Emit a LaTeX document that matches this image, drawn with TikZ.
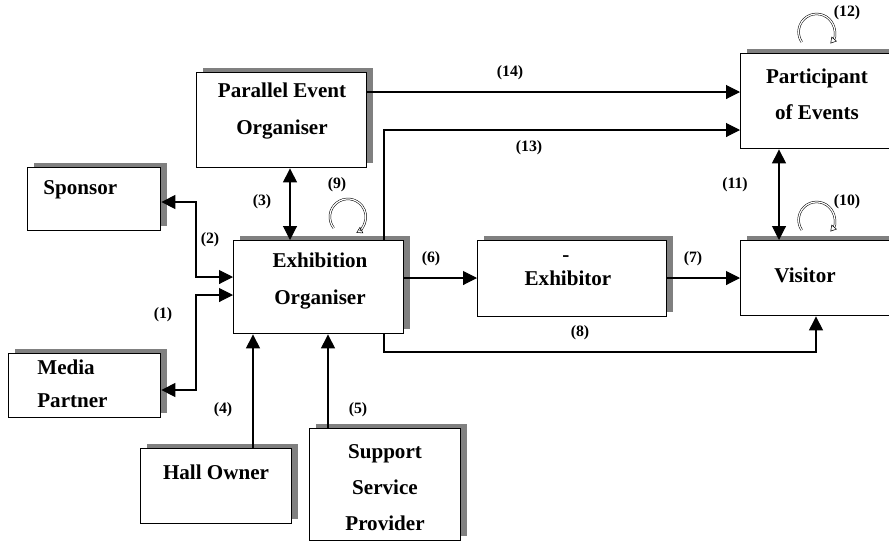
\documentclass[tikz,border=0pt]{standalone}
\usepackage{fontspec}
\setmainfont{Liberation Serif}
\usetikzlibrary{arrows.meta,shadows}

\begin{document}
\begin{tikzpicture}[x=0.02cm,y=-0.02cm,
	box/.style={draw,line width=0.8pt,fill=white,rectangle,anchor=north west,inner sep=0pt,
		drop shadow={shadow xshift=0.12cm,shadow yshift=0.1cm,fill=gray,opacity=1}},
	txt/.style={font=\fontsize{12}{20.5}\selectfont\bfseries,align=center,inner sep=0pt},
	lbl/.style={font=\fontsize{9}{11}\selectfont\bfseries,inner sep=0pt},
	link/.style={line width=0.6pt,-{Triangle[length=0.28cm,width=0.28cm]}},
	both/.style={line width=0.6pt,{Triangle[length=0.28cm,width=0.28cm]}-{Triangle[length=0.28cm,width=0.28cm]}},
	selfloop/.style={double=white,double distance=0.7pt,line width=0.3pt,-{Triangle[open,length=0.12cm,width=0.14cm]}}]
		\clip (0,0) rectangle (889,552);
		%Boxes
		\node[box,minimum width=2.66cm,minimum height=1.26cm] (spon) at (27,167) {};
		\node[box,minimum width=3.04cm,minimum height=1.28cm] (media) at (8,353) {};
		\node[box,minimum width=3.4cm,minimum height=1.9cm] (peo) at (196,72) {};
		\node[box,minimum width=3.4cm,minimum height=1.86cm] (eo) at (233,240) {};
		\node[box,minimum width=3.78cm,minimum height=1.52cm] (exh) at (477,240) {};
		\node[box,minimum width=3.2cm,minimum height=1.9cm] (part) at (740,53) {};
		\node[box,minimum width=3.2cm,minimum height=1.5cm] (vis) at (740,240) {};
		\node[box,minimum width=3.02cm,minimum height=1.5cm] (hall) at (140,448) {};
		\node[box,minimum width=3.02cm,minimum height=2.24cm] (ssp) at (309,428) {};
		%Box texts
		\node[txt,anchor=west] (spontxt) at (43,190) {Sponsor};
		\node[txt,anchor=west,align=left,font=\fontsize{12}{19}\selectfont\bfseries] (mediatxt) at (37,384) {Media\\Partner};
		\node[txt] (peotxt) at (282,111) {Parallel Event\\Organiser};
		\node[txt] (eotxt) at (320,281) {Exhibition\\Organiser};
		\node[txt] (exhtxt) at (568,278) {Exhibitor};
		\node[txt] (dash) at (566,259) {-};
		\node[txt] (parttxt) at (817,94) {Participant\\of Events};
		\node[txt] (vistxt) at (805,275) {Visitor};
		\node[txt] (halltxt) at (216,472) {Hall Owner};
		\node[txt] (ssptxt) at (385,488) {Support\\Service\\Provider};
		%Connectors
		\draw[both] (spon.east |- 0,202) -- (196,202) |- (eo.west |- 0,277);
		\draw[both] (media.east |- 0,390) -- (196,390) |- (eo.west |- 0,295);
		\draw[both] (peo.south -| 290,0) -- (eo.north -| 290,0);
		\draw[link] (hall.north -| 253,0) -- (eo.south -| 253,0);
		\draw[link] (ssp.north -| 328,0) -- (eo.south -| 328,0);
		\draw[link] (eo.east |- 0,278) -- (exh.west |- 0,278);
		\draw[link] (exh.east |- 0,278) -- (vis.west |- 0,278);
		\draw[link] (eo.south -| 384,0) -- (384,352) -| (vis.south -| 816,0);
		\draw[link] (eo.north -| 384,0) |- (part.west |- 0,130);
		\draw[link] (peo.east |- 0,92) -- (part.west |- 0,92);
		\draw[both] (part.south -| 779,0) -- (vis.north -| 779,0);
		%Self loops
		\draw[selfloop] ([xshift=0.3cm,yshift=0.24cm]eo.north) arc[start angle=218,end angle=-62,radius=0.36cm];
		\draw[selfloop] ([xshift=-0.38cm,yshift=0.2cm]vis.north) arc[start angle=214,end angle=-40,radius=0.36cm];
		\draw[selfloop] ([xshift=-0.38cm,yshift=0.22cm]part.north) arc[start angle=214,end angle=-40,radius=0.36cm];
		%Labels
		\node[lbl] (l1) at (163,315) {(1)};
		\node[lbl] (l2) at (210,240) {(2)};
		\node[lbl] (l3) at (262,202) {(3)};
		\node[lbl] (l4) at (223,410) {(4)};
		\node[lbl] (l5) at (358,410) {(5)};
		\node[lbl] (l6) at (431,259) {(6)};
		\node[lbl] (l7) at (693,259) {(7)};
		\node[lbl] (l8) at (580,333) {(8)};
		\node[lbl] (l9) at (337,185) {(9)};
		\node[lbl] (l10) at (847,202) {(10)};
		\node[lbl] (l11) at (735,185) {(11)};
		\node[lbl] (l12) at (847,13) {(12)};
		\node[lbl] (l13) at (529,148) {(13)};
		\node[lbl] (l14) at (510,73) {(14)};
\end{tikzpicture}
\end{document}
